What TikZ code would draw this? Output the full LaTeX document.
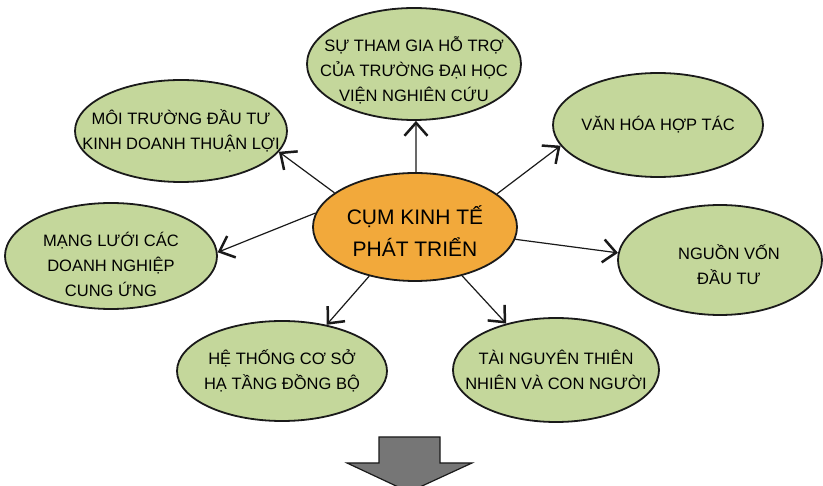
\documentclass[tikz,border=0pt]{standalone}
\usepackage{fontspec}
\setmainfont{Liberation Sans}
\usetikzlibrary{shapes.geometric,arrows.meta}
\definecolor{leaf}{HTML}{C4D79B}
\definecolor{amber}{HTML}{F2A93B}
\definecolor{rim}{HTML}{1A1A1A}
\definecolor{blockgray}{HTML}{767676}
\tikzset{
  factor/.style={ellipse, draw=rim, line width=1.8pt, fill=leaf, inner sep=0pt},
  hub/.style={ellipse, draw=rim, line width=1.8pt, fill=amber, inner sep=0pt},
  factortext/.style={align=center, inner sep=0pt, font=\fontsize{16.5}{25}\selectfont},
  hubtext/.style={align=center, inner sep=0pt, font=\fontsize{21}{32}\selectfont},
  link/.style={line width=1.2pt, draw=rim,
    -{Straight Barb[length=13pt,width=23pt,line width=2.5pt]}}
}
\begin{document}
\begin{tikzpicture}[x=1pt,y=-1pt]
\useasboundingbox (0,0) rectangle (823,486);
\fill[white] (0,0) rectangle (823,486);
\clip (0,0) rectangle (823,486);

% central cluster
\node[hub, minimum width=204pt, minimum height=108pt] (c) at (415,227) {};
\node[hubtext] (ct) at ([yshift=-4pt]c.center) {CỤM KINH TẾ\\PHÁT TRIỂN};

% surrounding factors
\node[factor, minimum width=214pt, minimum height=112pt] (t) at (414,64) {};
\node[factor, minimum width=212pt, minimum height=102pt] (ul) at (181,131) {};
\node[factor, minimum width=210pt, minimum height=104pt] (ur) at (658,125) {};
\node[factor, minimum width=212pt, minimum height=106pt] (l) at (111,256) {};
\node[factor, minimum width=204pt, minimum height=110pt] (r) at (720,260) {};
\node[factor, minimum width=210pt, minimum height=100pt] (bl) at (282,371) {};
\node[factor, minimum width=206pt, minimum height=104pt] (br) at (556,370) {};

\node[factortext] (tt) at ([yshift=-6pt]t.center) {SỰ THAM GIA HỖ TRỢ\\CỦA TRƯỜNG ĐẠI HỌC\\VIỆN NGHIÊN CỨU};
\node[factortext] (ult) at (ul.center) {MÔI TRƯỜNG ĐẦU TƯ\\KINH DOANH THUẬN LỢI};
\node[factortext] (urt) at (ur.center) {VĂN HÓA HỢP TÁC};
\node[factortext] (lt) at ([yshift=-8pt]l.center) {MẠNG LƯỚI CÁC\\DOANH NGHIỆP\\CUNG ỨNG};
\node[factortext] (rt) at ([xshift=9pt,yshift=-5pt]r.center) {NGUỒN VỐN\\ĐẦU TƯ};
\node[factortext] (blt) at (bl.center) {HỆ THỐNG CƠ SỞ\\HẠ TẦNG ĐỒNG BỘ};
\node[factortext] (brt) at (br.center) {TÀI NGUYÊN THIÊN\\NHIÊN VÀ CON NGƯỜI};

% connectors
\draw[link] (c.89) -- (t.-88);
\draw[link] (c.157) -- (ul.-12);
\draw[link] (c.22) -- (ur.-168);
\draw[link] (c.172) -- (l.2);
\draw[link] (c.-7) -- (r.176);
\draw[link] (c.-133) -- (bl.46);
\draw[link] (c.-46) -- (br.137);

% outcome arrow
\draw[fill=blockgray, draw=rim, line width=1.2pt, line join=miter]
  (379,437) -- (440,437) -- (440,463) -- (472,463) -- (409,492)
  -- (347,463) -- (379,463) -- cycle;
\end{tikzpicture}
\end{document}
